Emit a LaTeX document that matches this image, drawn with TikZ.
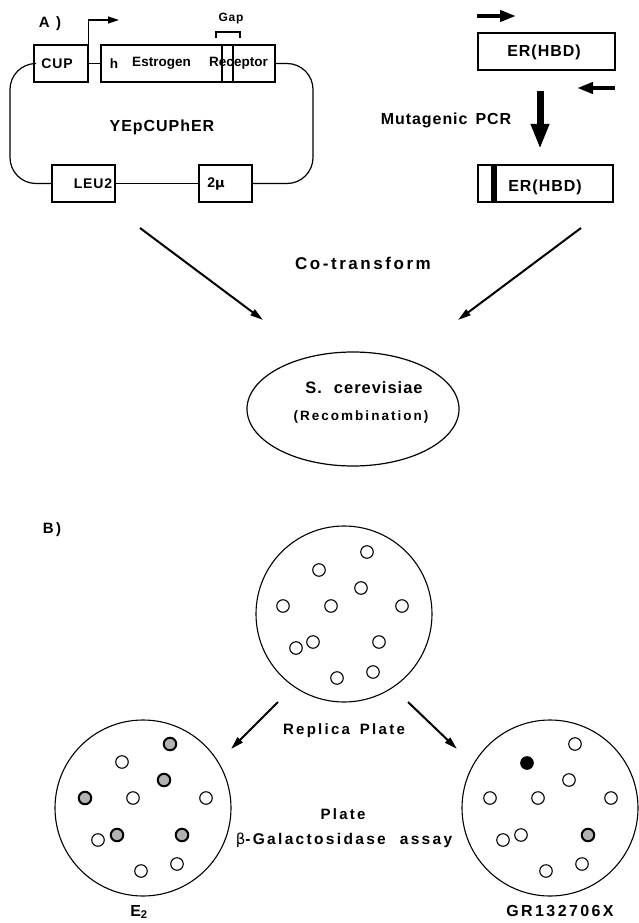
\documentclass[tikz,border=0pt]{standalone}
\usepackage{fontspec}
\setmainfont{Liberation Sans}
\newfontfamily\widefont[LetterSpace=15]{Liberation Sans}
\newfontfamily\midfont[LetterSpace=6]{Liberation Sans}
\usetikzlibrary{arrows.meta,shapes.geometric}
\begin{document}
\begin{tikzpicture}[x=1pt,y=-1pt,
  box/.style={draw, line width=1.2pt, minimum height=37pt, inner sep=0pt},
  txt/.style={inner sep=0pt, font=\midfont\bfseries\fontsize{14}{16}\selectfont},
  wtxt/.style={inner sep=0pt, font=\widefont\bfseries\fontsize{15}{18}\selectfont},
  plate/.style={draw, circle, line width=1.1pt, minimum size=176pt, inner sep=0pt},
  col/.style={draw, circle, line width=1.1pt, fill=white, minimum size=12.5pt, inner sep=0pt},
  poscol/.style={col, line width=2pt, fill=black!30},
  blkcol/.style={col, fill=black},
  arr/.style={line width=2pt, -{Triangle[length=13pt,width=7pt]}},
  primer/.style={line width=4pt, -{Triangle[length=16pt,width=11pt]}},
  bigarr/.style={line width=7pt, -{Triangle[length=25pt,width=17pt]}},
  thin/.style={line width=1.2pt}]
\useasboundingbox (0,0) rectangle (638,923);

% ---------- A) plasmid ----------
\node[wtxt] (labA) at (50,24) {A )};
\node[box, minimum width=54pt] (cup) at (61,63.5) {};
\node[txt] (cuptxt) at (57,63.5) {CUP};
\node[box, minimum width=174pt] (her) at (188,63.5) {};
\node[txt, font=\bfseries\fontsize{13.5}{16}\selectfont] (htxt) at (114,63.5) {h};
\node[txt, font=\bfseries\fontsize{13.5}{16}\selectfont] (esttxt) at (161.5,63.5) {Estrogen};
\node[txt, font=\bfseries\fontsize{13.5}{16}\selectfont] (rectxt) at (238.5,63.5) {Receptor};
\draw[thin] (222,45) -- (222,82);
\draw[thin] (233,45) -- (233,82);
\draw[thin] (216,38) -- (216,32) -- (240,32) -- (240,38);
\node[txt, font=\midfont\bfseries\fontsize{12}{14}\selectfont] (gaptxt) at (231,19) {Gap};
\coordinate (promtip) at (119,20);
\draw[thin, -{Triangle[length=11pt,width=7pt]}] (cup.north east) |- (promtip);

\node[box, minimum width=63pt] (leu) at (83.5,183.5) {};
\node[txt] (leutxt) at (93,183.5) {LEU2};
\node[box, minimum width=53pt] (twomu) at (225.5,183.5) {};
\node[txt] (mutxt) at (216,183.5) {2\fontspec{DejaVu Sans}\fontsize{13}{15}\selectfont μ};

\draw[thin] (cup.east) -- (her.west);
\draw[thin] (leu.east) -- (twomu.west);
\draw[thin, rounded corners=26pt] (cup.west) -- (10,63.5) -- (10,183.5) -- (leu.west);
\draw[thin, rounded corners=26pt] (her.east) -- (313,63.5) -- (313,183.5) -- (twomu.east);
\node[txt, font=\midfont\bfseries\fontsize{16}{18}\selectfont] (plasname) at (162,127) {YEpCUPhER};

% ---------- PCR ----------
\coordinate (p1s) at (477,16); \coordinate (p1e) at (516,16);
\draw[primer] (p1s) -- (p1e);
\node[box, minimum width=137pt] (er1) at (546.5,51.5) {};
\node[txt, font=\midfont\bfseries\fontsize{16}{18}\selectfont] (er1txt) at (544,52.5) {ER(HBD)};
\coordinate (p2s) at (615,88); \coordinate (p2e) at (577,88);
\draw[primer] (p2s) -- (p2e);
\coordinate (b1) at (540,91); \coordinate (b2) at (540,149);
\draw[bigarr] (b1) -- (b2);
\node[txt, font=\midfont\bfseries\fontsize{16}{18}\selectfont] (mpcr) at (446,120) {Mutagenic\hspace{8pt}PCR};
\node[box, minimum width=135pt] (er2) at (545.5,183.5) {};
\fill (491,165) rectangle (497,202);
\node[txt, font=\midfont\bfseries\fontsize{16}{18}\selectfont] (er2txt) at (545,187) {ER(HBD)};

% ---------- co-transform ----------
\coordinate (c1s) at (140,228); \coordinate (c1e) at (263,320);
\coordinate (c2s) at (581,228); \coordinate (c2e) at (458,320);
\draw[arr] (c1s) -- (c1e);
\draw[arr] (c2s) -- (c2e);
\node[wtxt, font=\widefont\bfseries\fontsize{17}{19}\selectfont] (cotr) at (363,263) {Co-transform};
\node[draw, ellipse, thin, minimum width=212pt, minimum height=114pt] (yeast) at (353,409) {};
\node[txt, font=\midfont\bfseries\fontsize{16.5}{18}\selectfont] (sc) at (364,388) {S.\hspace{12pt}cerevisiae};
\node[txt, font=\widefont\bfseries\fontsize{13.5}{15}\selectfont] (recomb) at (361,417) {(Recombination)};

% ---------- B) plates ----------
\node[wtxt] (labB) at (52,530) {B)};
\node[plate] (top) at (344,614) {};
\foreach \x/\y [count=\i] in {367/552,319/570,361/588,283/606,331/606,402/606,296/648,313/642,379/642,337/678,373/672}
  \node[col] (t\i) at (\x,\y) {};
\coordinate (r1s) at (278,702); \coordinate (r1e) at (231,749);
\coordinate (r2s) at (408,702); \coordinate (r2e) at (457,749);
\draw[arr] (r1s) -- (r1e);
\draw[arr] (r2s) -- (r2e);
\node[wtxt] (rep) at (344,731) {Replica\hspace{10pt}Plate};

\node[plate] (left) at (143,808) {};
\foreach \x/\y [count=\i] in {122/762,133/798,206/798,98/840,141/871,177/864}
  \node[col] (lw\i) at (\x,\y) {};
\foreach \x/\y [count=\i] in {170/744,164/780,85/798,117/835,182/835}
  \node[poscol] (lg\i) at (\x,\y) {};

\node[plate] (right) at (550,808) {};
\foreach \x/\y [count=\i] in {575/744,569/780,490/798,538/798,611/798,503/840,521/835,546/871,582/864}
  \node[col] (rw\i) at (\x,\y) {};
\node[poscol] (rg1) at (588,835) {};
\node[blkcol] (rb1) at (527,763) {};

\node[wtxt] (pl) at (343,814) {Plate};
\node[wtxt, font=\widefont\bfseries\fontsize{15.5}{18}\selectfont] (bgal) at (344,840) {{\fontspec{DejaVu Sans}\mdseries\fontsize{15}{16}\selectfont β}-Galactosidase\hspace{14pt}assay};
\node[wtxt, font=\widefont\bfseries\fontsize{16}{18}\selectfont] (e2) at (139,912) {E$_{\mathbf 2}$};
\node[wtxt, font=\widefont\bfseries\fontsize{16}{18}\selectfont] (gr) at (560,911) {GR132706X};
\end{tikzpicture}
\end{document}
